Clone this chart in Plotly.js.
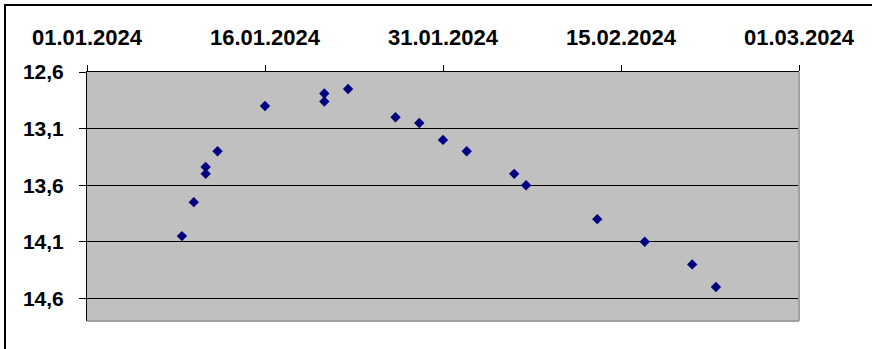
<!DOCTYPE html>
<html>
<head>
<meta charset="utf-8">
<script src="https://cdn.plot.ly/plotly-3.0.1.min.js"></script>
<style>
html, body { margin: 0; padding: 0; background: #fff; }
#wrap { position: relative; width: 872px; height: 349px; overflow: hidden; }
#chart { width: 872px; height: 349px; }
#frame { position: absolute; left: 4px; top: 4px; width: 900px; height: 400px;
  border-left: 2px solid #000; border-top: 2px solid #000; pointer-events: none; }
</style>
</head>
<body>
<div id="wrap">
  <div id="chart"></div>
  <div id="frame"></div>
</div>
<script>
const dates = [
  "2024-01-09", "2024-01-10", "2024-01-11", "2024-01-11", "2024-01-12",
  "2024-01-16", "2024-01-21", "2024-01-21", "2024-01-23", "2024-01-27",
  "2024-01-29", "2024-01-31", "2024-02-02", "2024-02-06", "2024-02-07",
  "2024-02-13", "2024-02-17", "2024-02-21", "2024-02-23"
];
const values = [
  14.05, 13.75, 13.50, 13.44, 13.30,
  12.90, 12.86, 12.79, 12.75, 13.00,
  13.05, 13.20, 13.30, 13.50, 13.60,
  13.90, 14.10, 14.30, 14.50
];
const xTickVals = ["2024-01-01", "2024-01-16", "2024-01-31", "2024-02-15", "2024-03-01"];
const xTickText = ["01.01.2024", "16.01.2024", "31.01.2024", "15.02.2024", "01.03.2024"];
const yTickVals = [12.6, 13.1, 13.6, 14.1, 14.6];
const yTickText = ["12,6", "13,1", "13,6", "14,1", "14,6"];

const yFont = { family: "Liberation Sans, Arial, sans-serif", size: 21, color: "#000", weight: "bold" };
const xFont = { family: "Liberation Sans, Arial, sans-serif", size: 22, color: "#000", weight: "bold" };

const trace = {
  x: dates,
  y: values,
  type: "scatter",
  mode: "markers",
  marker: { symbol: "diamond", size: 8, color: "#000080", line: { width: 0 } },
  hoverinfo: "skip"
};

const layout = {
  width: 872,
  height: 349,
  margin: { l: 87, r: 73, t: 72, b: 28, pad: 0 },
  paper_bgcolor: "#ffffff",
  plot_bgcolor: "#c0c0c0",
  showlegend: false,
  font: yFont,
  xaxis: {
    type: "date",
    side: "top",
    range: ["2024-01-01", "2024-03-01"],
    tickmode: "array",
    tickvals: xTickVals,
    ticktext: xTickText,
    ticks: "outside",
    ticklen: 6,
    tickwidth: 1,
    tickcolor: "#000",
    ticklabelstandoff: 11,
    showgrid: false,
    zeroline: false,
    showline: true,
    linecolor: "#000",
    linewidth: 1,
    tickfont: xFont,
    fixedrange: true
  },
  yaxis: {
    range: [14.8, 12.6],
    tickmode: "array",
    tickvals: yTickVals,
    ticktext: yTickText,
    ticks: "outside",
    ticklen: 7,
    tickwidth: 1,
    tickcolor: "#000",
    ticklabelstandoff: 11,
    showgrid: true,
    gridcolor: "#000",
    gridwidth: 1,
    zeroline: false,
    showline: true,
    linecolor: "#000",
    linewidth: 1,
    tickfont: yFont,
    fixedrange: true
  },
  shapes: [
    { type: "line", xref: "paper", yref: "paper", x0: 1, x1: 1, y0: 0, y1: 1,
      line: { color: "#a0a0a0", width: 2 } },
    { type: "line", xref: "paper", yref: "paper", x0: 0, x1: 1, y0: 0, y1: 0,
      line: { color: "#a0a0a0", width: 2 } }
  ]
};

Plotly.newPlot("chart", [trace], layout, { staticPlot: true, displayModeBar: false });
</script>
</body>
</html>
